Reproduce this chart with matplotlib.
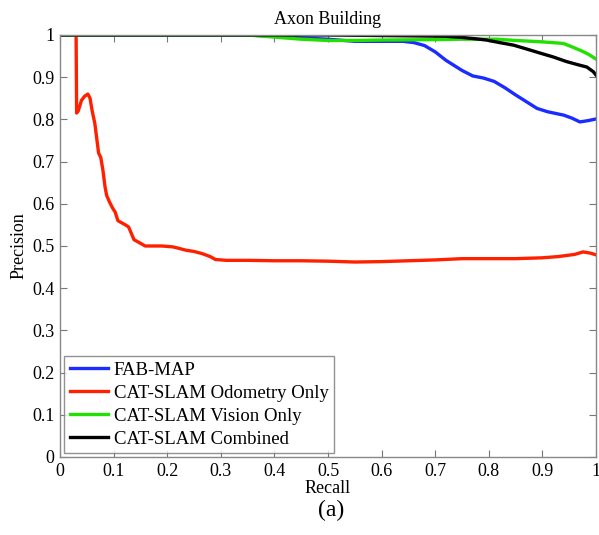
import matplotlib.pyplot as plt

plt.rcParams['font.family'] = ['Liberation Serif', 'DejaVu Serif']

# FAB-MAP
fab_x = [0.0, 0.35, 0.40, 0.45, 0.50, 0.55, 0.60, 0.64, 0.66, 0.68, 0.70, 0.72, 0.75, 0.77, 0.79, 0.81,
         0.83, 0.85, 0.87, 0.89, 0.91, 0.94, 0.955, 0.97, 0.985, 1.0]
fab_y = [1.0, 1.0, 0.997, 0.993, 0.99, 0.985, 0.985, 0.985, 0.982, 0.975, 0.96, 0.94, 0.916, 0.903, 0.898, 0.89,
         0.875, 0.858, 0.842, 0.826, 0.818, 0.81, 0.803, 0.794, 0.797, 0.801]

# CAT-SLAM odometry only
odo_x = [0.030, 0.031, 0.034, 0.040, 0.046, 0.052, 0.056, 0.060, 0.065, 0.070, 0.072, 0.076, 0.080,
         0.084, 0.087, 0.092, 0.098, 0.103, 0.108, 0.115, 0.122, 0.128, 0.133, 0.138, 0.145, 0.152,
         0.159, 0.17, 0.19, 0.21, 0.22, 0.235, 0.25, 0.265, 0.28, 0.29, 0.31, 0.35, 0.40, 0.45, 0.50,
         0.55, 0.60, 0.65, 0.70, 0.75, 0.80, 0.85, 0.90, 0.93, 0.96, 0.976, 0.99, 1.0]
odo_y = [1.0, 0.815, 0.82, 0.845, 0.855, 0.86, 0.85, 0.82, 0.79, 0.74, 0.72, 0.71, 0.68,
         0.64, 0.62, 0.605, 0.59, 0.58, 0.56, 0.555, 0.55, 0.545, 0.53, 0.515, 0.51, 0.505,
         0.50, 0.50, 0.50, 0.498, 0.495, 0.49, 0.487, 0.482, 0.475, 0.468, 0.466, 0.466, 0.465, 0.465, 0.464,
         0.462, 0.463, 0.465, 0.467, 0.47, 0.47, 0.47, 0.472, 0.475, 0.48, 0.486, 0.483, 0.479]

# CAT-SLAM vision only
vis_x = [0.0, 0.35, 0.40, 0.45, 0.50, 0.55, 0.60, 0.70, 0.75, 0.815, 0.85, 0.896, 0.939, 0.955, 0.97, 0.985, 1.0]
vis_y = [1.0, 1.0, 0.995, 0.99, 0.987, 0.987, 0.988, 0.989, 0.99, 0.99, 0.987, 0.984, 0.98, 0.972, 0.964, 0.955, 0.943]

# CAT-SLAM combined
com_x = [0.0, 0.50, 0.65, 0.72, 0.752, 0.775, 0.796, 0.82, 0.846, 0.87, 0.896, 0.92, 0.945, 0.965, 0.983, 0.995, 1.0]
com_y = [1.0, 1.0, 0.998, 0.997, 0.994, 0.991, 0.988, 0.982, 0.976, 0.967, 0.957, 0.948, 0.937, 0.93, 0.924, 0.913, 0.905]

fig = plt.figure(figsize=(5.99, 5.35), dpi=100)
ax = fig.add_axes([0.1002, 0.1458, 0.8948, 0.7888])

lw = 2.4
ax.plot(fab_x, fab_y, color='#1a2cff', lw=lw, label='FAB-MAP')
ax.plot(odo_x, odo_y, color='#ff2000', lw=lw, label='CAT-SLAM Odometry Only')
ax.plot(vis_x, vis_y, color='#22e000', lw=lw, label='CAT-SLAM Vision Only')
ax.plot(com_x, com_y, color='black', lw=lw, label='CAT-SLAM Combined')

ax.set_xlim(0, 1)
ax.set_ylim(0, 1)
ax.set_xticks([i / 10 for i in range(11)])
ax.set_yticks([i / 10 for i in range(11)])
ax.set_xticklabels(['0', '0.1', '0.2', '0.3', '0.4', '0.5', '0.6', '0.7', '0.8', '0.9', '1'])
ax.set_yticklabels(['0', '0.1', '0.2', '0.3', '0.4', '0.5', '0.6', '0.7', '0.8', '0.9', '1'])
ax.tick_params(direction='in', top=True, right=True, length=5, color='#777777',
               labelsize=13, pad=4)
for s in ax.spines.values():
    s.set_color('#888888')
    s.set_linewidth(1.0)

ax.set_title('Axon Building', fontsize=13, pad=8)
ax.set_xlabel('Recall', fontsize=13, labelpad=0)
ax.set_ylabel('Precision', fontsize=13, labelpad=3)

leg = ax.legend(loc='lower left', bbox_to_anchor=(0.0075, 0.009), fontsize=13.5, frameon=True,
                fancybox=False, borderpad=0.3, labelspacing=0.31, handlelength=2.05,
                handletextpad=0.3, borderaxespad=0)
leg.get_frame().set_edgecolor('#777777')
leg.get_frame().set_linewidth(1.0)

fig.text(0.552, 0.035, '(a)', fontsize=17, ha='center')

fig.savefig('out.png', dpi=100)
